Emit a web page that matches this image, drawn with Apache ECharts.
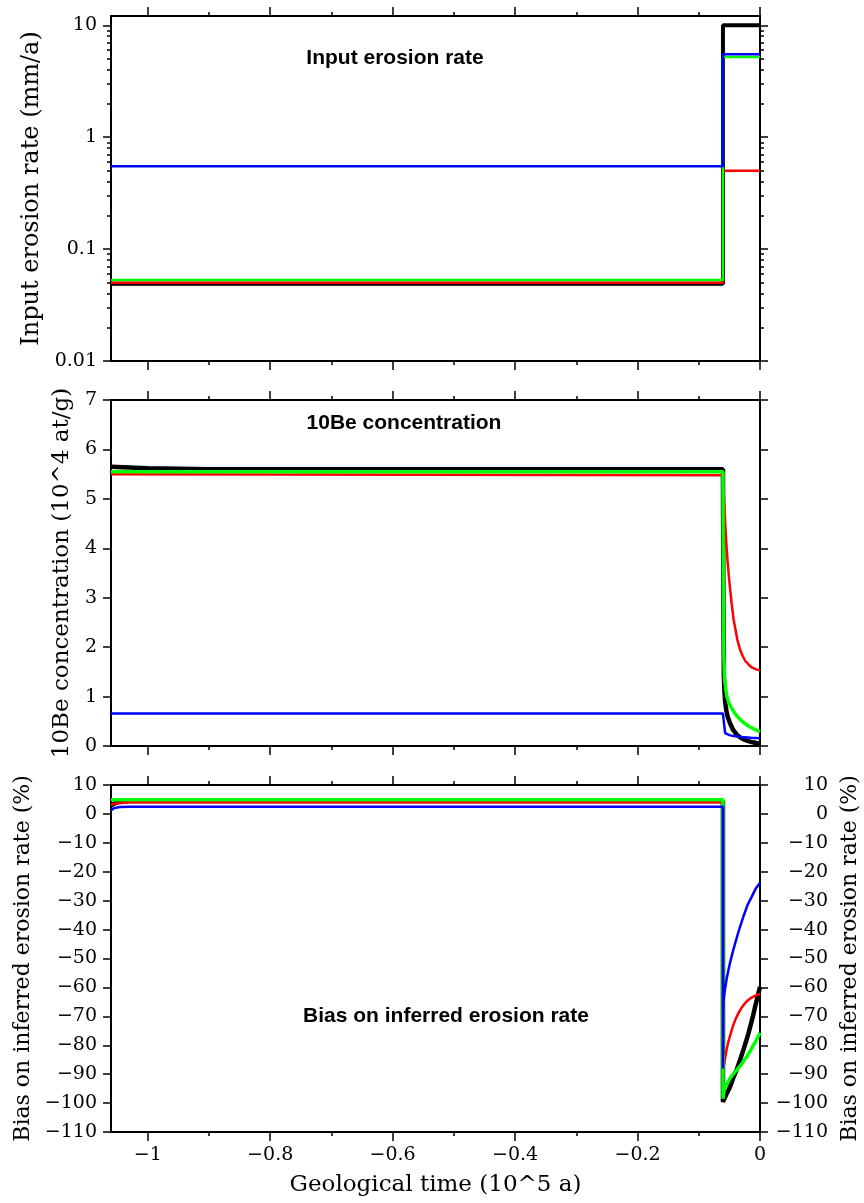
<!DOCTYPE html>
<html>
<head>
<meta charset="utf-8">
<script src="https://cdn.jsdelivr.net/npm/echarts@6/dist/echarts.min.js"></script>
<style>
  html, body { margin: 0; padding: 0; background: #fff; }
  #chart { width: 864px; height: 1203px; }
</style>
</head>
<body>
<div id="chart"></div>
<script>
// geological time ticks (10^5 a)
var xMajor = [-1, -0.8, -0.6, -0.4, -0.2, 0];
var xMinor = [-0.9, -0.7, -0.5, -0.3, -0.1];

// panel 1 : input erosion rate (mm/a)
var rateTime  = [-1.06, -0.0605, -0.0605, 0];
var rateBlack = [0.049, 0.049, 10, 10];
var rateRed   = [0.05, 0.05, 0.5, 0.5];
var rateGreen = [0.053, 0.053, 5.2, 5.2];
var rateBlue  = [0.55, 0.55, 5.5, 5.5];
var rateMajor = [0.01, 0.1, 1, 10];
var rateMinor = [0.02, 0.03, 0.04, 0.05, 0.06, 0.07, 0.08, 0.09,
                 0.2, 0.3, 0.4, 0.5, 0.6, 0.7, 0.8, 0.9,
                 2, 3, 4, 5, 6, 7, 8, 9];

// panel 2 : 10Be concentration (10^4 at/g)
var concTimeBlack = [-1.06, -1.0, -0.9, -0.0605, -0.0598, -0.059, -0.058, -0.057, -0.055, -0.053, -0.049, -0.044, -0.038, -0.032, -0.026, -0.019, -0.012, -0.006, 0];
var concBlack     = [5.65, 5.62, 5.6, 5.6, 2.8, 1.4, 1.1, 0.9, 0.72, 0.6, 0.46, 0.33, 0.23, 0.17, 0.13, 0.1, 0.075, 0.06, 0.05];
var concTimeRed   = [-1.06, -0.0605, -0.059, -0.057, -0.055, -0.053, -0.051, -0.049, -0.046, -0.043, -0.040, -0.037, -0.033, -0.029, -0.024, -0.018, -0.012, -0.006, 0];
var concRed       = [5.5, 5.48, 5.1, 4.55, 4.1, 3.75, 3.45, 3.2, 2.85, 2.55, 2.35, 2.15, 1.97, 1.84, 1.72, 1.64, 1.58, 1.55, 1.53];
var concTimeGreen = [-1.06, -0.0605, -0.0598, -0.059, -0.058, -0.056, -0.054, -0.052, -0.050, -0.047, -0.044, -0.040, -0.035, -0.031, -0.027, -0.022, -0.017, -0.012, -0.006, 0];
var concGreen     = [5.55, 5.55, 3.0, 1.8, 1.4, 1.15, 1.0, 0.92, 0.85, 0.78, 0.72, 0.64, 0.57, 0.52, 0.48, 0.43, 0.39, 0.36, 0.32, 0.29];
var concTimeBlue  = [-1.06, -0.0605, -0.057, -0.050, -0.043, -0.030, -0.015, 0];
var concBlue      = [0.66, 0.66, 0.26, 0.22, 0.20, 0.18, 0.165, 0.155];

// panel 3 : bias on inferred erosion rate (%)
var biasTimeBlack = [-1.06, -1.05, -1.03, -0.0605, -0.0605, -0.056, -0.052, -0.049, -0.044, -0.038, -0.0327, -0.027, -0.023, -0.019, -0.015, -0.011, -0.008, -0.004, 0];
var biasBlack     = [3.0, 4.0, 4.5, 4.5, -99.6, -97.5, -95.7, -94.4, -91.5, -88.4, -85.2, -81.5, -78.8, -76, -72.8, -69.5, -66.7, -63.2, -59.8];
var biasTimeRed   = [-1.06, -1.05, -1.03, -0.0605, -0.0605, -0.059, -0.057, -0.0545, -0.052, -0.049, -0.046, -0.0436, -0.040, -0.035, -0.030, -0.025, -0.020, -0.015, -0.010, -0.005, 0];
var biasRed       = [3.2, 3.7, 4.0, 4.0, -88, -87, -84.5, -81.5, -79, -76.8, -74.6, -73, -71, -68.8, -67, -65.6, -64.5, -63.7, -63.1, -62.6, -62.3];
var biasTimeGreen = [-1.06, -0.0605, -0.0605, -0.059, -0.057, -0.053, -0.049, -0.044, -0.038, -0.030, -0.0218, -0.016, -0.012, -0.008, -0.004, 0];
var biasGreen     = [4.9, 4.9, -98.5, -96, -94.4, -93, -91.5, -90, -88.6, -86.5, -84, -82, -80.5, -79, -77.4, -75.7];
var biasTimeBlue  = [-1.06, -1.055, -1.045, -1.03, -0.0605, -0.0605, -0.0600, -0.0575, -0.0545, -0.049, -0.0436, -0.0355, -0.0273, -0.0204, -0.0136, -0.0074, 0];
var biasBlue      = [1.3, 2.0, 2.4, 2.5, 2.5, -88, -65, -61, -57, -51.5, -47, -41, -35.6, -31.5, -28.7, -26, -23.8];

var serif = 'DejaVu Serif';
var tickStyle = { color: '#000', width: 1.5 };

function minus(v) { return String(v).replace('-', '\u2212'); }

// one axis per side and grid; minor ticks live on twin grids
function xAxis(g, pos, values, len, labels) {
  var a = {
    type: 'value', gridIndex: g, position: pos, min: -1.06, max: 0,
    axisLine: { show: false, onZero: false }, splitLine: { show: false },
    axisTick: { show: true, length: len, customValues: values, lineStyle: tickStyle },
    axisLabel: { show: false }
  };
  if (labels) {
    a.axisLabel = { show: true, customValues: xMajor, margin: 14, color: '#000',
      fontFamily: serif, fontSize: 19, formatter: minus };
    a.name = 'Geological time (10^5 a)';
    a.nameLocation = 'middle';
    a.nameGap = 42;
    a.nameTextStyle = { fontFamily: serif, fontSize: 23, color: '#000' };
  }
  return a;
}

function yAxis(g, pos, cfg) {
  var a = {
    gridIndex: g, position: pos,
    axisLine: { show: false, onZero: false }, splitLine: { show: false },
    axisTick: { show: cfg.hidden ? false : true, length: cfg.len || 8, lineStyle: tickStyle },
    axisLabel: { show: false }
  };
  for (var k in cfg.base) a[k] = cfg.base[k];
  if (cfg.ticks) a.axisTick.customValues = cfg.ticks;
  if (cfg.labels) {
    a.axisLabel = { show: true, color: '#000', fontFamily: serif, fontSize: 19,
      margin: pos === 'left' ? 14 : 68, align: 'right', formatter: minus };
    if (cfg.ticks) a.axisLabel.customValues = cfg.ticks;
  }
  if (cfg.name) {
    a.name = cfg.name;
    a.nameLocation = 'middle';
    a.nameRotate = 90;
    a.nameGap = cfg.gap;
    a.nameTextStyle = { fontFamily: serif, fontSize: cfg.size, color: '#000' };
  }
  return a;
}

var logBase = { type: 'log', logBase: 10, min: 0.01, max: 12.1 };
var concBase = { type: 'value', min: 0, max: 7, interval: 1 };
var biasBase = { type: 'value', min: -110, max: 10, interval: 10 };
var biasName = 'Bias on inferred erosion rate (%)';

var xAxes = [
  xAxis(0, 'bottom', xMajor, 9, false), xAxis(0, 'top', xMajor, 9, false),
  xAxis(1, 'bottom', xMajor, 9, false), xAxis(1, 'top', xMajor, 9, false),
  xAxis(2, 'bottom', xMajor, 9, true),  xAxis(2, 'top', xMajor, 9, false),
  xAxis(3, 'bottom', xMinor, 4, false), xAxis(3, 'top', xMinor, 4, false),
  xAxis(4, 'bottom', xMinor, 4, false), xAxis(4, 'top', xMinor, 4, false),
  xAxis(5, 'bottom', xMinor, 4, false), xAxis(5, 'top', xMinor, 4, false)
];

var yAxes = [
  yAxis(0, 'left', { base: logBase, ticks: rateMajor, labels: true, name: 'Input erosion rate (mm/a)', gap: 65, size: 24 }),
  yAxis(0, 'right', { base: logBase, ticks: rateMajor }),
  yAxis(1, 'left', { base: concBase, labels: true, name: '10Be concentration (10^4 at/g)', gap: 33, size: 23 }),
  yAxis(1, 'right', { base: concBase }),
  yAxis(2, 'left', { base: biasBase, labels: true, name: biasName, gap: 73, size: 22 }),
  yAxis(2, 'right', { base: biasBase, labels: true, name: biasName, gap: 73, size: 22 }),
  yAxis(3, 'left', { base: logBase, ticks: rateMinor, len: 4 }),
  yAxis(3, 'right', { base: logBase, ticks: rateMinor, len: 4 }),
  yAxis(4, 'left', { base: concBase, hidden: true }),
  yAxis(5, 'left', { base: biasBase, hidden: true })
];

function line(ts, vs, color, width, panel) {
  return {
    type: 'line', xAxisIndex: panel * 2, yAxisIndex: panel * 2,
    data: ts.map(function (t, i) { return [t, vs[i]]; }),
    showSymbol: false, symbol: 'none', animation: false,
    lineStyle: { color: color, width: width }, itemStyle: { color: color }
  };
}

var series = [
  line(rateTime, rateBlack, '#000000', 4, 0),
  line(rateTime, rateRed, '#ff0000', 2.5, 0),
  line(rateTime, rateGreen, '#00ff00', 2.5, 0),
  line(rateTime, rateBlue, '#0000ff', 2.5, 0),

  line(concTimeBlack, concBlack, '#000000', 4.5, 1),
  line(concTimeRed, concRed, '#ff0000', 2.5, 1),
  line(concTimeGreen, concGreen, '#00ff00', 3.5, 1),
  line(concTimeBlue, concBlue, '#0000ff', 2.5, 1),

  line(biasTimeBlack, biasBlack, '#000000', 4.5, 2),
  line(biasTimeRed, biasRed, '#ff0000', 2.5, 2),
  line(biasTimeGreen, biasGreen, '#00ff00', 3.5, 2),
  line(biasTimeBlue, biasBlue, '#0000ff', 2.5, 2)
];

var titleFont = 'bold 21px "Liberation Sans", Arial, sans-serif';
function title(text, x, y) {
  return { type: 'text', x: x, y: y, z: 100,
    style: { text: text, font: titleFont, fill: '#000', align: 'center', verticalAlign: 'middle' } };
}

function grid(top, height, framed) {
  return { left: 111, top: top, width: 649, height: height, show: framed,
    borderColor: '#000', borderWidth: 2, backgroundColor: 'transparent',
    outerBoundsMode: 'none', containLabel: false };
}

var chart = echarts.init(document.getElementById('chart'), null, { renderer: 'canvas' });
chart.setOption({
  backgroundColor: '#fff',
  animation: false,
  grid: [
    grid(16, 345, true), grid(400, 346, true), grid(785, 347, true),
    grid(16, 345, false), grid(400, 346, false), grid(785, 347, false)
  ],
  xAxis: xAxes,
  yAxis: yAxes,
  series: series,
  graphic: [
    title('Input erosion rate', 395, 58),
    title('10Be concentration', 404, 423),
    title('Bias on inferred erosion rate', 446, 1016)
  ]
});
</script>
</body>
</html>
